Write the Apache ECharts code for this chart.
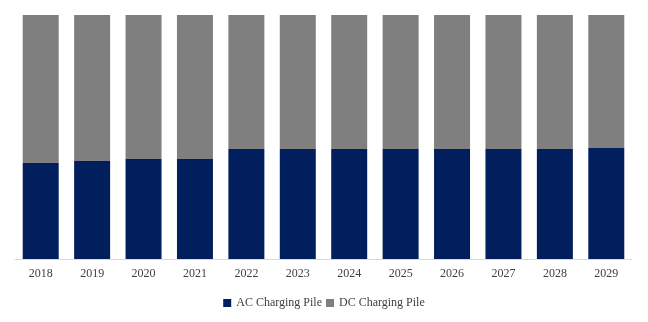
<!DOCTYPE html>
<html><head><meta charset="utf-8">
<script src="https://cdn.jsdelivr.net/npm/echarts@6/dist/echarts.min.js"></script>
<style>html,body{margin:0;padding:0;background:#fff}#c{width:648px;height:322px}</style>
</head><body><div id="c"></div>
<script>
var categories = ['2018','2019','2020','2021','2022','2023','2024','2025','2026','2027','2028','2029'];
var acShare = [39.3, 40.2, 41.0, 41.0, 45.1, 45.1, 45.1, 45.1, 45.1, 45.1, 45.1, 45.5];
var dcShare = acShare.map(function(v){ return +(100 - v).toFixed(1); });

var chart = echarts.init(document.getElementById('c'), null, {renderer:'canvas'});
chart.setOption({
  animation: false,
  grid: {left: 15, right: 16, top: 15, bottom: 63},
  legend: {
    bottom: 8, left: 'center', itemWidth: 8, itemHeight: 8, itemGap: 4,
    icon: 'rect',
    textStyle: {fontFamily: 'Liberation Serif', fontSize: 12, color: '#404040'},
    data: ['AC Charging Pile', 'DC Charging Pile']
  },
  xAxis: {
    type: 'category', data: categories,
    axisLine: {lineStyle: {color: '#D9D9D9', width: 1}},
    axisTick: {show: false},
    axisLabel: {fontFamily: 'Liberation Serif', fontSize: 12, color: '#404040', margin: 9}
  },
  yAxis: {type: 'value', min: 0, max: 100, show: false, splitLine: {show: false}},
  series: [
    {name: 'AC Charging Pile', type: 'bar', stack: 's', data: acShare, barWidth: '70%',
     itemStyle: {color: '#001F5C'}},
    {name: 'DC Charging Pile', type: 'bar', stack: 's', data: dcShare, barWidth: '70%',
     itemStyle: {color: '#7F7F7F'}}
  ]
});
</script></body></html>
